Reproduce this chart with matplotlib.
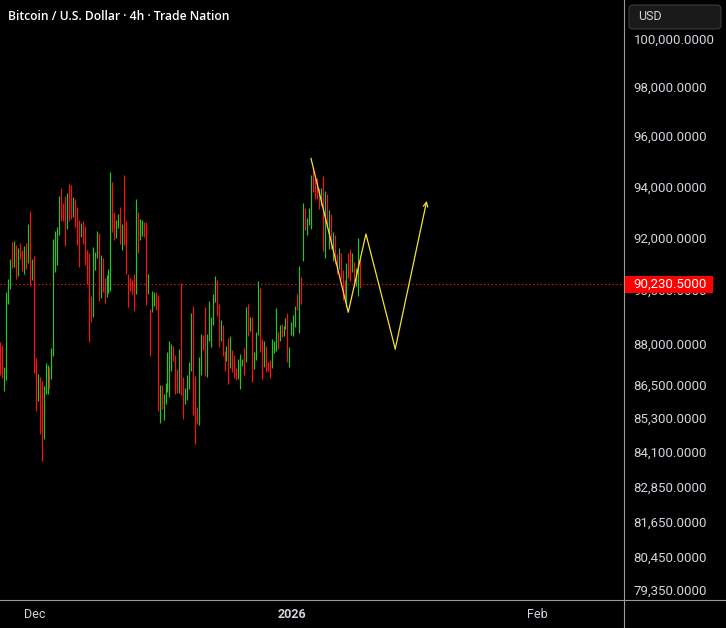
import matplotlib
matplotlib.use("Agg")
import matplotlib.pyplot as plt
from matplotlib.patches import Rectangle, FancyBboxPatch
from matplotlib.lines import Line2D
from matplotlib.ticker import FixedLocator, FuncFormatter, NullLocator

# 4h bars (high / low / up-close)
highs = [88060, 87950, 87140, 89920, 90410, 91180, 91830, 91870, 91720, 91600,
         91790, 91520, 91680, 91790, 92530, 93030, 91180, 91290, 87470, 86880,
         86770, 86620, 86440, 87280, 87210, 87140, 87830, 91950, 92260, 92410,
         93620, 93940, 93350, 93620, 93740, 94100, 94060, 93580, 93500, 93190,
         92680, 92570, 92640, 92450, 91520, 91410, 89770, 91640, 91450, 92260,
         92180, 91330, 91220, 90450, 90570, 90800, 94570, 94170, 92990, 92680,
         92920, 93190, 92530, 94450, 92640, 90610, 90450, 90380, 90610, 93500,
         92990, 92720, 92680, 92610, 92610, 90610, 89280, 89960, 89920, 89920,
         89810, 86480, 86480, 86150, 86550, 87690, 88090, 87980, 87910, 87580,
         87060, 87800, 90260, 86770, 86370, 86840, 87320, 89130, 89400, 86810,
         85690, 87500, 88350, 88320, 89360, 88350, 89580, 88980, 89850, 90530,
         90380, 89470, 88870, 88690, 87720, 87910, 88200, 88280, 87760, 87580,
         87100, 87430, 87610, 87430, 87830, 89360, 89470, 88980, 88980, 87690,
         88430, 90340, 90080, 88170, 88090, 87910, 87320, 87390, 88170, 88090,
         89320, 88430, 88690, 88720, 88650, 88950, 89130, 87870, 88800, 89060,
         89400, 89850, 90910, 90490, 93350, 93150, 92760, 93150, 94450, 94770,
         94330, 94330, 93940, 93940, 94410, 93820, 93700, 93070, 92920, 92220,
         92100, 91370, 91600, 91410, 90760, 90380, 91030, 91410, 91560, 91410,
         91060, 90830, 91990, 91180]
lows = [86840, 86730, 86260, 86660, 89470, 90040, 90830, 90870, 90410, 90530,
        91180, 90720, 90610, 90800, 91030, 90150, 90380, 86920, 85540, 85900,
        84720, 83760, 84540, 86150, 86150, 86340, 86700, 87540, 90680, 90950,
        92100, 92640, 92640, 91680, 92330, 92640, 92720, 92800, 92410, 91720,
        90870, 92020, 91750, 90950, 90230, 88060, 88800, 88980, 90760, 91220,
        89580, 89700, 89920, 89510, 89740, 89890, 89960, 92220, 91910, 91990,
        92370, 91750, 91520, 91720, 90610, 89360, 89960, 89850, 89210, 89850,
        91410, 91910, 92060, 92020, 89430, 89850, 87540, 89170, 89400, 89250,
        85540, 85110, 85610, 85220, 85790, 86230, 86050, 86990, 87360, 86150,
        86190, 86190, 86120, 85250, 85790, 85940, 86340, 86990, 85400, 84360,
        85080, 85040, 86840, 87760, 86810, 86770, 88090, 87870, 88690, 89550,
        89020, 87870, 88090, 87540, 86990, 87360, 86520, 87100, 86950, 86730,
        86660, 86700, 86340, 87170, 86840, 87320, 88280, 88460, 86590, 87060,
        87390, 88320, 87690, 86700, 87140, 86950, 86990, 86730, 87100, 87650,
        87720, 87800, 88090, 88240, 88280, 88540, 87320, 87140, 88320, 88280,
        88610, 89250, 88390, 89470, 91100, 92300, 92100, 92490, 92330, 93780,
        93500, 93500, 93110, 93270, 91480, 91220, 92450, 91560, 91560, 91100,
        90990, 90610, 90800, 90410, 89620, 89580, 89360, 90450, 90340, 90680,
        90110, 90150, 89770, 90080]
up = [0, 0, 1, 1, 1, 1, 0, 1, 0, 1,
      0, 0, 1, 0, 1, 0, 1, 0, 0, 1,
      0, 0, 1, 1, 1, 0, 1, 1, 1, 1,
      1, 0, 0, 0, 1, 0, 0, 1, 0, 0,
      0, 1, 0, 0, 0, 0, 0, 1, 1, 1,
      0, 1, 0, 0, 1, 1, 1, 0, 0, 1,
      1, 0, 1, 0, 0, 0, 0, 0, 0, 1,
      0, 1, 1, 0, 0, 1, 0, 1, 1, 0,
      0, 1, 0, 1, 1, 1, 1, 1, 0, 0,
      0, 1, 0, 0, 1, 1, 1, 1, 0, 0,
      0, 1, 1, 0, 0, 1, 1, 1, 1, 1,
      0, 0, 1, 0, 0, 1, 0, 1, 0, 0,
      0, 1, 1, 1, 0, 1, 0, 1, 0, 1,
      1, 1, 0, 0, 1, 0, 0, 0, 1, 1,
      1, 0, 1, 0, 1, 1, 0, 1, 1, 1,
      1, 0, 1, 0, 1, 0, 1, 1, 1, 0,
      0, 0, 0, 1, 0, 1, 0, 1, 0, 1,
      0, 0, 1, 0, 0, 0, 1, 0, 0, 1,
      0, 1, 1, 0]

price_ticks = [100000, 98000, 96000, 94000, 92000, 90000, 88000, 86500,
               85300, 84100, 82850, 81650, 80450, 79350]
last_price = 90230.5
date_labels = ["Dec", "2026", "Feb"]
date_bars = [17.6, 148.3, 273.3]

# hand-drawn projection (bar index, price)
wave_x = [157.96, 176.9, 185.9, 200.8, 216.8]
wave_y = [95110, 89160, 92140, 87800, 93430]

W, H = 726, 628
GREEN = "#22c822"
RED = "#ff1010"
YELLOW = "#f2e234"
TXT = "#d1d4dc"
LINE = "#9a9a9a"

fig = plt.figure(figsize=(W / 100, H / 100), dpi=100, facecolor="black")
ax = fig.add_axes([0, 28 / H, 624 / W, 600 / H], facecolor="black")

xs = list(range(len(highs)))
cols = [GREEN if u else RED for u in up]
ax.vlines(xs, lows, highs, colors=cols, linewidth=0.85)

ax.plot(wave_x[:-1], wave_y[:-1], color=YELLOW, lw=0.9, zorder=5)
ax.annotate("", xy=(wave_x[-1], wave_y[-1]), xytext=(wave_x[-2], wave_y[-2]),
            arrowprops=dict(arrowstyle="->", color=YELLOW, lw=0.9,
                            mutation_scale=8, shrinkA=0, shrinkB=0), zorder=5)

ax.axhline(last_price, color=RED, lw=0.8, ls=(0, (1.2, 2.2)), zorder=1)

ax.set_yscale("log")
ax.set_ylim(79015, 101651)
ax.set_xlim(-0.15, 317.1)
ax.yaxis.set_major_locator(FixedLocator(price_ticks))
ax.yaxis.set_minor_locator(NullLocator())
ax.yaxis.set_major_formatter(FuncFormatter(lambda v, p: f"{v:,.4f}"))
ax.yaxis.tick_right()
ax.tick_params(axis="y", length=0, pad=6.8, labelcolor=TXT, labelsize=9.5)
for lab in ax.get_yticklabels():
    lab.set_fontfamily("Roboto")

ax.set_xticks(date_bars)
ax.set_xticklabels(date_labels)
ax.tick_params(axis="x", length=0, pad=6, labelcolor=TXT, labelsize=9)
for lab in ax.get_xticklabels():
    lab.set_fontfamily("Roboto")
    if lab.get_text() == "2026":
        lab.set_fontweight("bold")

for s in ax.spines.values():
    s.set_visible(False)

# panel separators
fig.add_artist(Line2D([624 / W, 624 / W], [0, 1], color=LINE, lw=0.8))
fig.add_artist(Line2D([0, 1], [28 / H, 28 / H], color=LINE, lw=0.8))

# last price tag
fig.canvas.draw()
y_pix = ax.transData.transform((0, last_price))[1]
fig.add_artist(Rectangle((625 / W, (y_pix - 9.5) / H), 88 / W, 17.5 / H,
                         facecolor="#ff0000", edgecolor="none", zorder=6))
fig.text(633 / W, (y_pix - 0.5) / H, f"{last_price:,.4f}", color="white",
         fontsize=9.5, family="Roboto", va="center", ha="left", zorder=7)

# currency button
fig.add_artist(FancyBboxPatch((629 / W, 1 - 29 / H), 92 / W, 24 / H,
                              boxstyle="round,pad=0,rounding_size=0.006",
                              facecolor="#1a1a1a", edgecolor="#3a3a3a",
                              lw=0.8, zorder=6))
fig.text(638 / W, 1 - 16.5 / H, "USD", color=TXT, fontsize=9,
         family="Roboto", va="center", ha="left", zorder=7)

fig.text(8 / W, 1 - 16 / H, "Bitcoin / U.S. Dollar · 4h · Trade Nation",
         color="white", fontsize=8.7, family="Open Sans", fontweight="semibold",
         va="center", ha="left")

fig.savefig("out.png", dpi=100, facecolor="black")
